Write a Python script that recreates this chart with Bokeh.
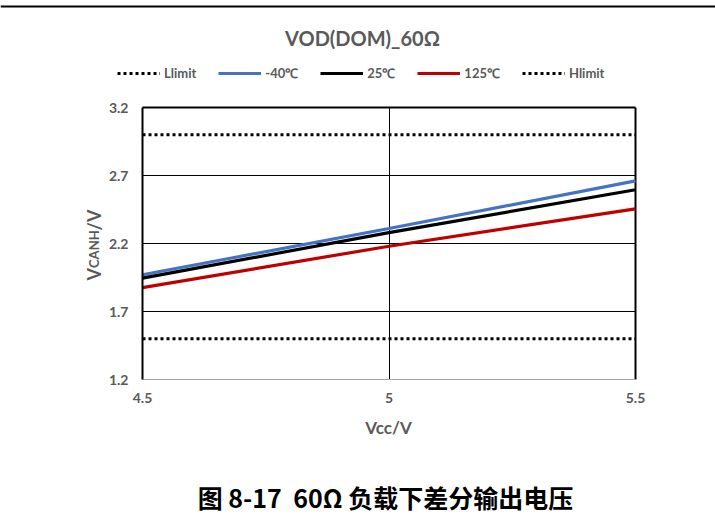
import math
from bokeh.plotting import figure
from bokeh.models import (Legend, LegendItem, Label, LinearAxis, FixedTicker,
                          Span, Range1d)
from bokeh.embed import file_html
from bokeh.resources import INLINE

# ---- data ----
vcc = [4.5, 5.0, 5.5]
v_m40 = [1.97, 2.31, 2.66]
v_25 = [1.945, 2.28, 2.595]
v_125 = [1.875, 2.18, 2.455]
llimit = [1.5, 1.5, 1.5]
hlimit = [3.0, 3.0, 3.0]
series_names = ["Llimit", "-40℃", "25℃", "125℃", "Hlimit"]
y_ticks = [1.2, 1.7, 2.2, 2.7, 3.2]
x_ticks = [4.5, 5.0, 5.5]
x_tick_labels = ["4.5", "5", "5.5"]
title_text = "VOD(DOM)_60Ω"
x_label = "Vcc/V"
y_label_parts = ["V", "CANH", "/V"]
caption = "图 8-17\u00a0 60Ω 负载下差分输出电压"

GRAY = "#595959"
FONT = "Lato"
W, H = 715, 525

# plot box in pixels: x 142..635, y 107..379 ; whole canvas is the frame
PXX = 493.0 / (x_ticks[-1] - x_ticks[0])
PXY = 272.0 / (y_ticks[-1] - y_ticks[0])
x0 = x_ticks[0] - 142 / PXX
x1 = x0 + W / PXX
y1 = y_ticks[-1] + 107 / PXY
y0 = y1 - H / PXY


def sx(px):
    return x0 + px / PXX


def sy(py):
    return y1 - py / PXY


p = figure(width=W, height=H, x_range=Range1d(x0, x1), y_range=Range1d(y0, y1),
           output_backend="svg", toolbar_location=None, title=None,
           x_axis_type=None, y_axis_type=None, min_border=0)
p.outline_line_color = None
p.grid.visible = False
p.background_fill_color = "white"
p.border_fill_color = "white"

xbounds = (x_ticks[0], x_ticks[-1])
ybounds = (y_ticks[0], y_ticks[-1])


def frame_line(side, loc, bounds, color, width):
    ax = LinearAxis(fixed_location=loc, bounds=bounds, ticker=FixedTicker(ticks=[]),
                    axis_line_color=color, axis_line_width=width,
                    major_tick_line_color=None, minor_tick_line_color=None,
                    major_label_text_font_size="0px", major_label_standoff=0,
                    level="underlay")
    p.add_layout(ax, side)


# horizontal grid lines and top border
for yt in y_ticks[1:-1]:
    frame_line("below", yt, xbounds, "black", 1)
frame_line("below", y_ticks[-1], xbounds, "black", 2)
# vertical grid line and right border
frame_line("left", x_ticks[1], ybounds, "black", 1)
frame_line("left", x_ticks[-1], ybounds, "black", 2)

# main axes
xa = LinearAxis(fixed_location=y_ticks[0], bounds=xbounds,
                ticker=FixedTicker(ticks=x_ticks),
                major_label_overrides=dict(zip(x_ticks, x_tick_labels)),
                major_tick_in=0, major_tick_out=0, minor_tick_line_color=None,
                axis_line_color="#a6a6a6", axis_line_width=1,
                major_label_standoff=13, major_label_text_font=FONT,
                major_label_text_font_style="bold", major_label_text_font_size="14px",
                major_label_text_color=GRAY)
p.add_layout(xa, "below")

ya = LinearAxis(fixed_location=x_ticks[0], bounds=ybounds,
                ticker=FixedTicker(ticks=y_ticks),
                major_tick_in=0, major_tick_out=0, minor_tick_line_color=None,
                axis_line_color="black", axis_line_width=2,
                major_label_standoff=14, major_label_text_font=FONT,
                major_label_text_font_style="bold", major_label_text_font_size="14px",
                major_label_text_color=GRAY)
p.add_layout(ya, "left")

# series
r_l = p.line(vcc, llimit, line_color="black", line_width=3, line_dash="3 3")
r_h = p.line(vcc, hlimit, line_color="black", line_width=3, line_dash="3 3")
r_125 = p.line(vcc, v_125, line_color="#C00000", line_width=3.2)
r_m40 = p.line(vcc, v_m40, line_color="#4472C4", line_width=3.2)
r_25 = p.line(vcc, v_25, line_color="black", line_width=3.2)

legend = Legend(items=[
    LegendItem(label=series_names[0], renderers=[r_l]),
    LegendItem(label=series_names[1], renderers=[r_m40]),
    LegendItem(label=series_names[2], renderers=[r_25]),
    LegendItem(label=series_names[3], renderers=[r_125]),
    LegendItem(label=series_names[4], renderers=[r_h]),
], orientation="horizontal", location=(117, H - 82), spacing=22, label_standoff=4,
   glyph_width=43, glyph_height=14, label_height=14, padding=0, margin=0,
   border_line_color=None, background_fill_alpha=0,
   label_text_font=FONT, label_text_font_style="bold",
   label_text_font_size="13px", label_text_color=GRAY)
p.add_layout(legend)

# top rule of the page
p.add_layout(Span(location=sy(6), dimension="width", line_color="black", line_width=2))

# title
p.add_layout(Label(x=sx(362), y=sy(37), text=title_text, text_align="center",
                   text_baseline="middle", text_font=FONT, text_font_style="bold",
                   text_font_size="20px", text_color=GRAY))

# x axis title
p.add_layout(Label(x=sx(388), y=sy(427), text=x_label, text_align="center",
                   text_baseline="middle", text_font=FONT, text_font_style="bold",
                   text_font_size="17px", text_color=GRAY))

# y axis title with small-caps subscript
ypix = [280, 267.5, 230]
ysizes = ["18px", "13px", "18px"]
for part, yy, sz in zip(y_label_parts, ypix, ysizes):
    p.add_layout(Label(x=sx(93), y=sy(yy), text=part, angle=math.pi / 2,
                       text_align="left", text_baseline="alphabetic",
                       text_font=FONT, text_font_style="bold",
                       text_font_size=sz, text_color=GRAY))

# caption
p.add_layout(Label(x=sx(385), y=sy(496), text=caption, text_align="center",
                   text_baseline="middle", text_font="Noto Sans CJK SC",
                   text_font_style="bold", text_font_size="25px", text_color="black"))

open("out.html", "w").write(file_html(p, INLINE))
